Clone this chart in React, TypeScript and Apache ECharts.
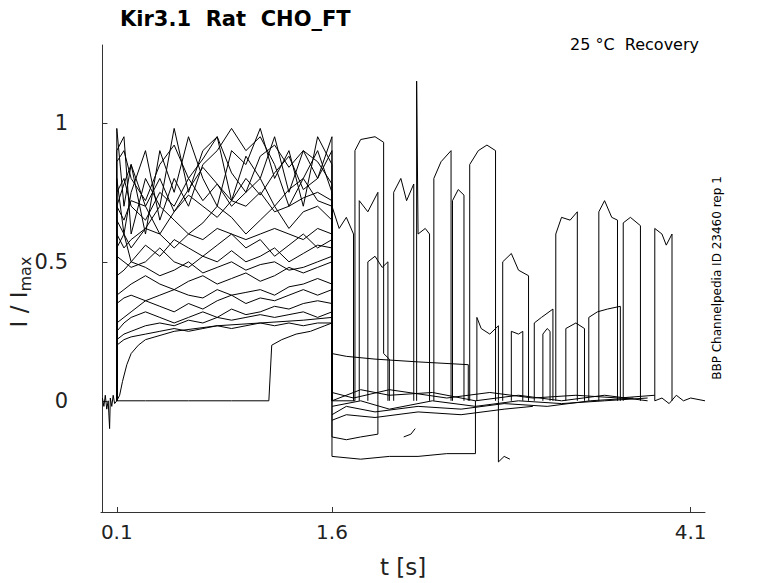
import { useEffect, useRef } from 'react';
import * as echarts from 'echarts';

const X_TICKS = [0.1, 1.6, 4.1];
const Y_TICKS = [0, 0.5, 1];

// baseline before the pulse
const BASELINE: [number, number][] = [
  [0, 0.01], [0.01, -0.02], [0.02, 0.02], [0.03, -0.03], [0.04, 0.0], [0.05, -0.1], [0.055, 0.01],
  [0.065, -0.02], [0.075, 0.02], [0.085, -0.01], [0.1, 0.0],
];

// current levels during 0.1 .. 1.6 s, sampled at PRE_T
const PRE_T = [0.1, 0.15, 0.2, 0.3, 0.4, 0.5, 0.6, 0.7, 0.8, 0.9, 1.0, 1.1, 1.2, 1.3, 1.4, 1.5, 1.6];
const PRE_LEVELS: number[][] = [
  [0.98, 0.7, 0.85, 0.6, 0.9, 0.75, 0.95, 0.8, 0.7, 0.9, 0.85, 0.98, 0.8, 0.9, 0.7, 0.95, 0.85],
  [0.9, 0.95, 0.6, 0.8, 0.7, 0.98, 0.75, 0.9, 0.95, 0.72, 0.88, 0.8, 0.95, 0.75, 0.9, 0.8, 0.95],
  [0.8, 0.6, 0.75, 0.9, 0.65, 0.8, 0.7, 0.85, 0.9, 0.98, 0.9, 0.95, 0.85, 0.7, 0.8, 0.9, 0.75],
  [0.75, 0.8, 0.7, 0.65, 0.75, 0.7, 0.8, 0.72, 0.78, 0.7, 0.75, 0.8, 0.7, 0.76, 0.8, 0.72, 0.7],
  [0.7, 0.65, 0.72, 0.7, 0.6, 0.68, 0.74, 0.7, 0.66, 0.72, 0.7, 0.75, 0.68, 0.7, 0.73, 0.75, 0.72],
  [0.65, 0.6, 0.55, 0.62, 0.7, 0.65, 0.6, 0.64, 0.7, 0.66, 0.6, 0.65, 0.7, 0.62, 0.68, 0.7, 0.65],
  [0.6, 0.55, 0.58, 0.62, 0.6, 0.55, 0.6, 0.58, 0.62, 0.6, 0.58, 0.6, 0.62, 0.6, 0.58, 0.62, 0.6],
  [0.55, 0.6, 0.5, 0.56, 0.52, 0.58, 0.55, 0.52, 0.56, 0.6, 0.55, 0.58, 0.52, 0.56, 0.6, 0.55, 0.58],
  [0.52, 0.5, 0.48, 0.5, 0.55, 0.5, 0.48, 0.52, 0.5, 0.54, 0.5, 0.52, 0.55, 0.5, 0.53, 0.56, 0.55],
  [0.45, 0.47, 0.5, 0.48, 0.45, 0.47, 0.5, 0.46, 0.48, 0.5, 0.47, 0.49, 0.5, 0.47, 0.48, 0.5, 0.52],
  [0.38, 0.4, 0.42, 0.45, 0.42, 0.4, 0.43, 0.45, 0.42, 0.44, 0.46, 0.43, 0.45, 0.48, 0.46, 0.48, 0.5],
  [0.35, 0.37, 0.38, 0.36, 0.38, 0.4, 0.38, 0.37, 0.4, 0.38, 0.39, 0.4, 0.38, 0.41, 0.42, 0.44, 0.42],
  [0.28, 0.3, 0.32, 0.36, 0.34, 0.32, 0.35, 0.33, 0.36, 0.38, 0.35, 0.37, 0.36, 0.38, 0.4, 0.38, 0.4],
  [0.25, 0.28, 0.3, 0.32, 0.3, 0.28, 0.3, 0.32, 0.3, 0.33, 0.31, 0.32, 0.34, 0.33, 0.35, 0.36, 0.35],
  [0.22, 0.24, 0.25, 0.27, 0.28, 0.27, 0.29, 0.28, 0.3, 0.29, 0.3, 0.31, 0.3, 0.31, 0.32, 0.3, 0.32],
  [0.2, 0.22, 0.23, 0.24, 0.25, 0.26, 0.25, 0.26, 0.27, 0.26, 0.27, 0.28, 0.27, 0.28, 0.27, 0.28, 0.28],
  [0.86, 0.9, 0.8, 0.72, 0.85, 0.92, 0.8, 0.87, 0.95, 0.82, 0.75, 0.88, 0.92, 0.84, 0.9, 0.86, 0.78],
  [0.7, 0.78, 0.85, 0.7, 0.8, 0.68, 0.76, 0.84, 0.78, 0.72, 0.8, 0.74, 0.82, 0.88, 0.76, 0.8, 0.9],
];

// traces that stay closed early in the pulse
const LATE_OPEN: [number, number][] = [
  [0.1, 0.0], [0.3, 0.0], [0.6, 0.0], [0.9, 0.0], [1.16, 0.0], [1.17, 0.1], [1.18, 0.2],
  [1.25, 0.22], [1.35, 0.24], [1.45, 0.25], [1.55, 0.27], [1.6, 0.28],
];
const SLOW_RISE: [number, number][] = [
  [0.1, 0.0], [0.12, 0.02], [0.14, 0.07], [0.17, 0.13], [0.2, 0.17], [0.25, 0.2], [0.3, 0.22],
  [0.5, 0.25], [0.8, 0.27], [1.1, 0.28], [1.4, 0.29], [1.6, 0.3],
];

// noisy band near zero after the pulse
const POST_ZERO: [number, number][][] = [
  [[1.6, 0.0], [1.8, 0.04], [2.0, 0.02], [2.3, 0.03], [2.6, 0.0], [2.9, 0.02], [3.2, 0.0], [3.5, 0.02], [3.8, 0.0]],
  [[1.6, -0.02], [1.8, 0.0], [2.0, -0.03], [2.3, 0.0], [2.6, -0.02], [2.9, 0.0], [3.2, -0.01], [3.5, 0.0], [3.8, 0.01]],
  [[1.6, -0.05], [1.7, -0.02], [1.9, -0.04], [2.2, -0.02], [2.5, -0.03], [2.8, -0.01], [3.1, -0.02], [3.4, 0.0], [3.7, 0.01]],
  [[1.6, 0.03], [1.75, 0.01], [2.0, 0.04], [2.4, 0.01], [2.7, 0.03], [3.0, 0.01], [3.3, 0.02], [3.6, 0.01], [3.85, 0.02]],
  [[1.6, -0.07], [1.7, -0.05], [1.9, -0.06], [2.2, -0.04], [2.5, -0.05], [2.8, -0.03], [3.0, -0.02]],
  [[3.85, 0.0], [3.9, 0.01], [3.95, -0.01], [4.0, 0.02], [4.05, 0.0], [4.1, 0.01], [4.2, 0.0]],
];

// step-like single channel traces after the pulse (null breaks a trace)
const POST_STEPS: ([number, number] | null)[][] = [
  [[1.6, 0.6], [1.6, 0.17], [1.7, 0.16], [1.9, 0.15], [2.2, 0.14], [2.55, 0.13], [2.55, 0.0]],
  [[1.6, 0.3], [1.6, 0.0], [1.76, 0.0], [1.76, 0.9], [1.8, 0.94], [1.9, 0.95], [1.96, 0.93], [1.96, 0.17], [2.0, 0.15], [2.0, 0.0]],
  [[1.6, 0.55], [1.6, 0.7], [1.65, 0.62], [1.7, 0.66], [1.75, 0.6], [1.75, 0.0]],
  [[1.79, 0.0], [1.79, 0.72], [1.85, 0.68], [1.92, 0.75], [1.92, 0.0]],
  [[1.85, 0.0], [1.85, 0.5], [1.9, 0.52], [1.95, 0.48], [1.99, 0.5], [1.99, 0.0]],
  [[2.03, 0.0], [2.03, 0.75], [2.08, 0.8], [2.12, 0.72], [2.17, 0.78], [2.17, 0.0]],
  [[2.19, 0.0], [2.19, 1.15], [2.2, 0.6], [2.25, 0.62], [2.28, 0.6], [2.28, 0.0]],
  [[2.31, 0.0], [2.31, 0.8], [2.36, 0.86], [2.43, 0.9], [2.43, 0.0]],
  [[2.44, 0.0], [2.44, 0.72], [2.48, 0.76], [2.52, 0.74], [2.52, 0.0]],
  [[2.56, 0.0], [2.56, 0.85], [2.62, 0.9], [2.68, 0.92], [2.74, 0.9], [2.74, 0.0]],
  [[2.61, 0.0], [2.61, 0.3], [2.64, 0.26], [2.7, 0.24], [2.76, 0.27], [2.76, 0.0]],
  [[2.79, 0.0], [2.79, 0.5], [2.85, 0.53], [2.9, 0.47], [2.97, 0.45], [2.97, 0.0]],
  [[2.85, 0.0], [2.85, 0.25], [2.9, 0.24], [2.93, 0.25], [2.93, 0.0]],
  [[3.01, 0.0], [3.01, 0.28], [3.06, 0.3], [3.14, 0.33], [3.14, 0.0]],
  [[3.07, 0.0], [3.07, 0.24], [3.1, 0.26], [3.12, 0.25], [3.12, 0.0]],
  [[3.16, 0.0], [3.16, 0.6], [3.2, 0.66], [3.26, 0.65], [3.31, 0.68], [3.31, 0.0]],
  [[3.23, 0.0], [3.23, 0.26], [3.3, 0.28], [3.36, 0.26], [3.36, 0.0]],
  [[3.39, 0.0], [3.39, 0.3], [3.45, 0.32], [3.52, 0.33], [3.61, 0.34], [3.61, 0.0]],
  [[3.46, 0.0], [3.46, 0.68], [3.5, 0.72], [3.55, 0.66], [3.59, 0.65], [3.59, 0.0]],
  [[3.63, 0.0], [3.63, 0.64], [3.68, 0.66], [3.75, 0.63], [3.75, 0.0]],
  [[3.85, 0.0], [3.85, 0.62], [3.9, 0.6], [3.93, 0.56], [3.97, 0.6], [3.97, 0.0]],
  [[1.6, 0.5], [1.6, -0.13], [1.7, -0.14], [1.8, -0.13], [1.92, -0.12], [1.92, 0.0], null, [2.1, -0.13], [2.15, -0.12], [2.18, -0.1]],
  [[1.6, 0.4], [1.6, -0.2], [1.8, -0.21], [2.0, -0.2], [2.2, -0.2], [2.4, -0.19], [2.6, -0.19], [2.6, 0.0]],
  [[2.76, 0.0], [2.76, -0.22], [2.8, -0.2], [2.84, -0.21]],
];

export default function App() {
  const ref = useRef<HTMLDivElement>(null);

  useEffect(() => {
    document.body.style.margin = '0';
    if (!ref.current) return;
    const chart = echarts.init(ref.current, undefined, { renderer: 'svg' });
    const line = (data: ([number, number] | null)[]) => ({
      type: 'line' as const,
      data: data.map((p) => (p ? p : [null, null])),
      showSymbol: false,
      connectNulls: false,
      lineStyle: { color: '#000', width: 1 },
      silent: true,
    });
    const series: any[] = [line(BASELINE)];
    PRE_LEVELS.forEach((lv) => {
      const pts: [number, number][] = [[0.1, 0]];
      PRE_T.forEach((t, i) => pts.push([t, lv[i]]));
      pts.push([1.6, 0]);
      series.push(line(pts));
    });
    series.push(line(LATE_OPEN), line(SLOW_RISE));
    POST_ZERO.forEach((d) => series.push(line(d)));
    POST_STEPS.forEach((d) => series.push(line(d)));

    chart.setOption({
      animation: false,
      backgroundColor: '#fff',
      textStyle: { fontFamily: 'DejaVu Sans' },
      title: [
        { text: 'Kir3.1  Rat  CHO_FT', left: 115, top: 3, textStyle: { fontSize: 21, fontWeight: 'bold', color: '#000' } },
        { text: '25 °C  Recovery', right: 74, top: 31, textStyle: { fontSize: 16, fontWeight: 'normal', color: '#000' } },
      ],
      graphic: [
        {
          type: 'text', x: 717, y: 278, rotation: Math.PI / 2,
          style: { text: 'BBP Channelpedia ID 23460 rep 1', fontSize: 12, fill: '#000', align: 'center', verticalAlign: 'middle', fontFamily: 'DejaVu Sans' },
        },
        {
          type: 'text', x: 19, y: 292, rotation: Math.PI / 2,
          style: {
            text: '{a|I / I}{b|max}', align: 'center', verticalAlign: 'middle', fontFamily: 'DejaVu Sans',
            rich: { a: { fontSize: 23, fill: '#222', fontFamily: 'DejaVu Sans' }, b: { fontSize: 16, fill: '#222', fontFamily: 'DejaVu Sans', padding: [12, 0, 0, 0] } },
          },
        },
      ],
      grid: { left: 101, right: 73, top: 45, bottom: 71, outerBoundsMode: 'none' },
      xAxis: {
        type: 'value', min: -0.01, max: 4.2,
        name: 't [s]', nameLocation: 'middle', nameGap: 43, nameTextStyle: { fontSize: 23, color: '#222' },
        axisLine: { onZero: false, lineStyle: { color: '#333' } },
        axisTick: { inside: true, length: 5, customValues: X_TICKS, lineStyle: { color: '#333' } },
        axisLabel: { customValues: X_TICKS, fontSize: 20, color: '#222', margin: 10, formatter: (v: number) => String(v) },
        splitLine: { show: false },
      },
      yAxis: {
        type: 'value', min: -0.4, max: 1.28,
        axisLine: { show: true, lineStyle: { color: '#333' } },
        axisTick: { inside: true, length: 5, customValues: Y_TICKS, lineStyle: { color: '#333' } },
        axisLabel: { customValues: Y_TICKS, fontSize: 21, color: '#222', margin: 33, formatter: (v: number) => String(v) },
        splitLine: { show: false },
      },
      series,
    });
    return () => chart.dispose();
  }, []);

  return <div ref={ref} style={{ width: 778, height: 583 }} />;
}
